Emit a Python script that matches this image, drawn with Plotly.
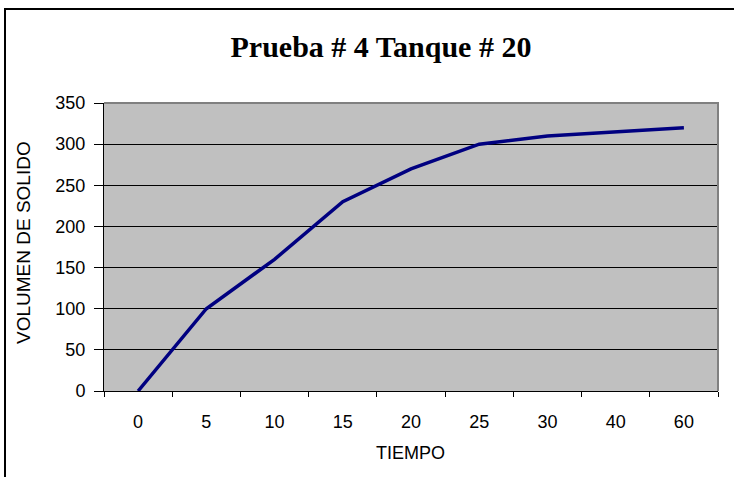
import plotly.graph_objects as go

# Settling test data
tiempo = ["0", "5", "10", "15", "20", "25", "30", "40", "60"]
volumen = [0, 100, 160, 230, 270, 300, 310, 315, 320]
y_ticks = [0, 50, 100, 150, 200, 250, 300, 350]

W, H = 734, 477
L, R, T, B = 104, 16, 103, 86
pw, ph = W - L - R, H - T - B


def px_x(p):
    return (p - L) / pw


def px_y(p):
    return (H - B - p) / ph


fig = go.Figure(
    go.Scatter(
        x=tiempo,
        y=volumen,
        mode="lines",
        line=dict(color="#000080", width=3.5),
        hoverinfo="x+y",
    )
)

tick_font = dict(family="Liberation Sans, Arial, sans-serif", size=18, color="black")
title_font = dict(family="Liberation Sans, Arial, sans-serif", size=18, color="black")
ytitle_font = dict(family="Liberation Sans, Arial, sans-serif", size=19, color="black")

fig.update_layout(
    width=W,
    height=H,
    margin=dict(l=L, r=R, t=T, b=B),
    paper_bgcolor="white",
    plot_bgcolor="#C0C0C0",
    showlegend=False,
    title=dict(
        text="<b>Prueba # 4 Tanque # 20</b>",
        font=dict(family="Liberation Serif, Times New Roman, serif", size=30, color="black"),
        xref="paper",
        x=px_x(381),
        xanchor="center",
        yref="container",
        y=1 - 46 / H,
        yanchor="middle",
    ),
    xaxis=dict(
        type="category",
        range=[-0.5, 8.5],
        tickson="boundaries",
        ticks="outside",
        ticklen=5,
        tickcolor="black",
        tickwidth=1,
        showline=True,
        linecolor="black",
        linewidth=1,
        showgrid=False,
        tickfont=tick_font,
        ticklabelstandoff=14,
        fixedrange=True,
    ),
    yaxis=dict(
        range=[0, 350],
        tickvals=y_ticks,
        ticks="outside",
        ticklen=9,
        tickcolor="black",
        tickwidth=1,
        showline=True,
        linecolor="black",
        linewidth=1,
        showgrid=True,
        gridcolor="black",
        gridwidth=1,
        zeroline=False,
        tickfont=tick_font,
        ticklabelstandoff=5,
        fixedrange=True,
    ),
    annotations=[
        dict(
            text="TIEMPO",
            xref="paper",
            yref="paper",
            x=px_x(410),
            y=px_y(453),
            xanchor="center",
            yanchor="middle",
            showarrow=False,
            font=title_font,
        ),
        dict(
            text="VOLUMEN DE SOLIDO",
            xref="paper",
            yref="paper",
            x=px_x(23),
            y=px_y(243),
            xanchor="center",
            yanchor="middle",
            textangle=-90,
            showarrow=False,
            font=ytitle_font,
        ),
    ],
    shapes=[
        # grey frame on the top and right of the plot area
        dict(
            type="path",
            xref="paper",
            yref="paper",
            path="M 0,1 L 1,1 L 1,0",
            line=dict(color="#808080", width=2),
            layer="above",
        ),
        # outer chart border
        dict(
            type="path",
            xref="paper",
            yref="paper",
            path=f"M {px_x(5)},{px_y(500)} L {px_x(5)},{px_y(9)} L {px_x(760)},{px_y(9)}",
            line=dict(color="black", width=2),
            layer="above",
        ),
    ],
)

fig.write_html("out.html")
